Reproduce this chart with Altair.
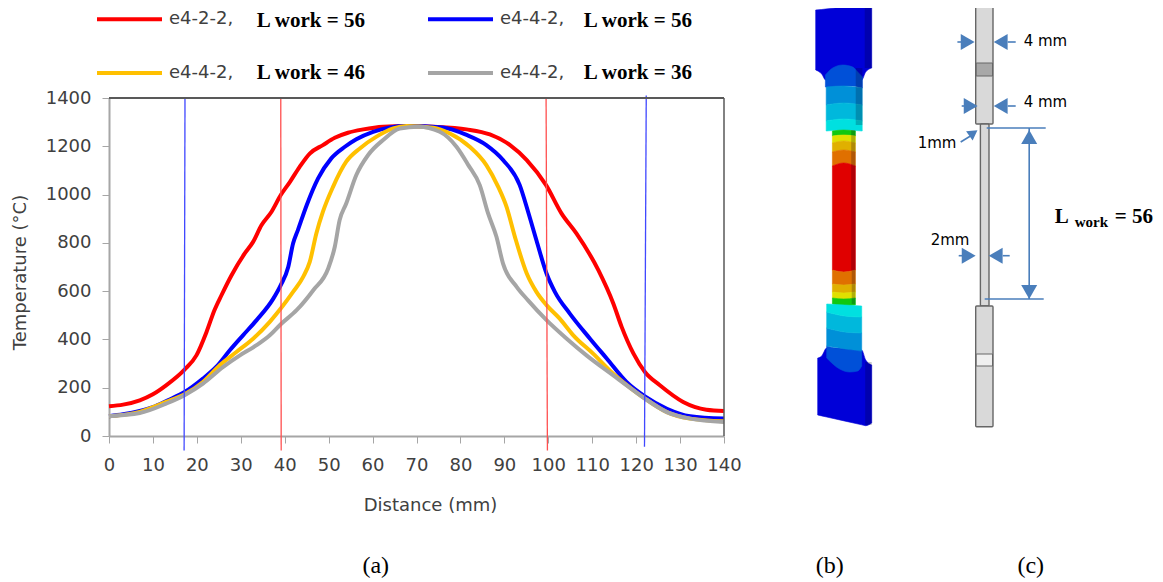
import altair as alt
import pandas as pd

# ---- panel (a): temperature profiles -------------------------------------
names = ["e4-2-2, L work = 56", "e4-4-2, L work = 56 ", "e4-4-2, L work = 46", "e4-4-2, L work = 36"]
colors = ["#ff0000", "#0000ff", "#ffc000", "#a5a5a5"]
red_x = [0,3.2,7,10,13,17.2,19.9,22.2,24,25.6,27.9,30.9,32.8,34.7,37,39.1,41.2,43.4,45.7,48.7,51.4,54.4,57.9,62.4,67.7,73.8,81.4,86.7,91.3,95.1,99.5,103,106.4,111.4,114.8,116.7,119.4,122,125.4,130.7,136,140]
red_y = [123,130,148,173,210,275,334,431,521,583,666,756,804,873,929,998,1053,1115,1170,1205,1235,1256,1270,1281,1284,1281,1270,1249,1205,1143,1039,922,839,687,549,452,341,265,210,141,109,104]
blue_x = [0,3.2,7,10,13.4,17.2,21.4,24.4,27.5,30.5,33.6,37.4,39.1,40.8,41.9,43,45,47.6,50.6,53.7,56.3,60.1,63.9,67.7,76,81.4,85.9,89.7,93.5,95.4,97.3,99.6,101.5,104.9,109.5,113.3,117.8,122,127,132.3,140]
blue_y = [82,90,104,120,148,182,238,286,355,417,480,569,625,700,797,853,956,1067,1150,1198,1229,1260,1278,1284,1278,1247,1205,1143,1039,929,811,673,597,507,403,321,224,164,113,82,72]
yellow_x = [0,7,13,17.2,21.4,25.2,29,32.8,36.6,39.1,41.9,44.2,45.7,47.2,48.7,51,54,57.1,60.9,64.7,67.7,73.8,77.6,82.1,85.9,88.6,90.5,92.4,95.1,97.3,99.6,102.6,105.7,110.2,114.8,119.4,122,127,132.3,140]
yellow_y = [82,100,141,173,224,293,348,403,473,528,597,659,721,839,929,1032,1136,1191,1240,1274,1284,1277,1253,1198,1122,1032,949,825,673,597,542,486,417,341,258,189,155,99,72,61]
gray_x = [0,7,13,17.2,21.4,26,29.8,33.6,36.6,39.1,42.7,46.5,49.9,51.4,52.5,54,56.3,59,62.4,66.2,70.4,75.3,79.1,81.8,84.4,86.3,88.2,89.7,92.8,95.4,99.6,104.2,108.7,114.8,119.4,122,127,132.3,140]
gray_y = [82,95,134,169,217,286,334,376,417,463,521,604,694,784,894,963,1081,1164,1226,1274,1281,1260,1198,1122,1039,922,825,714,618,562,480,403,334,251,189,155,99,72,58]
x_ticks = list(range(0, 141, 10))
y_ticks = list(range(0, 1401, 200))

# guide lines drawn over the profiles (slightly tilted, as in the picture)
guide_x1 = [17.3, 39.1, 99.5, 122.3]
guide_x2 = [17.1, 39.2, 99.8, 121.9]
guide_y1 = [1400, 1400, 1400, 1410]
guide_y2 = [-60, -60, -60, -45]
guide_col = ["#4048ff", "#ff5050", "#ff5050", "#4048ff"]

series = [(names[0], red_x, red_y), (names[1], blue_x, blue_y),
          (names[2], yellow_x, yellow_y), (names[3], gray_x, gray_y)]
curves = pd.DataFrame([
    {"series": n, "order": i, "x": a, "y": b}
    for i, (n, xs, ys) in enumerate(series) for a, b in zip(xs, ys)
])
guides = pd.DataFrame({"x": guide_x1, "x2": guide_x2, "y": guide_y1, "y2": guide_y2, "c": guide_col})

SANS = "DejaVu Sans"
SERIF = "Liberation Serif"
TXT = "#404040"
W, H = 615, 338

xs = alt.Scale(domain=[0, 140], nice=False, zero=False)
ys = alt.Scale(domain=[0, 1400], nice=False)
x_axis = alt.Axis(values=x_ticks, title="Distance (mm)", grid=False, domainColor="#a6a6a6", domainWidth=2,
                  tickColor="#a6a6a6", tickSize=7, tickWidth=1, labelFont=SANS, labelFontSize=18, labelColor=TXT,
                  labelPadding=13, titleFont=SANS, titleFontSize=18, titleColor=TXT, titleFontWeight="normal",
                  titlePadding=22, titleX=321, labelOverlap=False, labelFlush=False, format="d")
y_axis = alt.Axis(values=y_ticks, title="Temperature (°C)", grid=False, domainColor="#a6a6a6", domainWidth=2,
                  tickColor="#a6a6a6", tickSize=7, tickWidth=1, labelFont=SANS, labelFontSize=18, labelColor=TXT,
                  labelPadding=11, titleFont=SANS, titleFontSize=18, titleColor=TXT, titleFontWeight="normal",
                  titlePadding=16, titleY=174, labelOverlap=False, format="d")

legend = alt.Legend(title=None, orient="none", legendX=-14, legendY=-113.5, columns=2, direction="horizontal",
                    symbolType="stroke", symbolSize=4225, symbolStrokeWidth=4, rowPadding=10,
                    columnPadding=186, labelFont=SANS, labelFontSize=18, labelColor=TXT, labelOffset=5, padding=0,
                    labelLimit=140, labelExpr="split(datum.label, ' L')[0]", values=names)

lines = alt.Chart(curves).mark_line(strokeWidth=4, interpolate="monotone", clip=False).encode(
    x=alt.X("x:Q", scale=xs, axis=x_axis),
    y=alt.Y("y:Q", scale=ys, axis=y_axis),
    order="order:O",
    color=alt.Color("series:N", scale=alt.Scale(domain=names, range=colors), legend=legend, sort=names),
)
guide_rules = alt.Chart(guides).mark_rule(strokeWidth=1.3).encode(
    x=alt.X("x:Q", scale=xs), x2="x2:Q", y=alt.Y("y:Q", scale=ys), y2="y2:Q", color=alt.Color("c:N", scale=None),
)
top_line = alt.Chart(pd.DataFrame({"y": [1400]})).mark_rule(color="#595959", strokeWidth=2).encode(y=alt.Y("y:Q", scale=ys))
right_line = alt.Chart(pd.DataFrame({"x": [140]})).mark_rule(color="#595959", strokeWidth=1.5).encode(x=alt.X("x:Q", scale=xs))
panel_a = alt.layer(lines, guide_rules, top_line, right_line)

# ---- everything else is read in picture pixels through a pixel scale -----
OX, OY = 109.3, 98
px = alt.Scale(domain=[0, 1163], range=[-OX, 1163 - OX], nice=False, zero=False)
py = alt.Scale(domain=[0, 582], range=[-OY, 582 - OY], nice=False, zero=False)
PX = alt.X("x:Q", scale=px, axis=None)
PY = alt.Y("y:Q", scale=py, axis=None)

# panel (b): FE contour bands: (colour, xs, top edge, bottom edge)
neck_top = [825.7, 833, 843, 853, 858, 862.7]
wide = [826.5, 844, 862.5]
narrow = [832.7, 844, 855.7]
bands = [
    ("#0000d8", [816, 822, 826, 862, 866, 872], [10, 9.5, 9, 5.8, 5.4, 4.5], [70, 74, 80, 80, 72, 68]),
    ("#0050d8", neck_top, [75, 68, 65, 67, 72, 77], [87, 87, 86, 86, 87, 88]),
    ("#0090d8", wide, [87, 86, 88], [105, 103, 105]),
    ("#00b8dc", wide, [105, 103, 105], [121, 119, 121]),
    ("#00e0e0", wide, [121, 119, 121], [131, 130, 131]),
    ("#10c810", narrow, [131, 130, 131], [136, 135, 136]),
    ("#e0e000", narrow, [136, 135, 136], [143, 141, 143]),
    ("#e0b000", narrow, [143, 141, 143], [152, 150, 152]),
    ("#e07000", narrow, [152, 150, 152], [166, 163, 166]),
    ("#e00000", narrow, [166, 163, 166], [270, 272, 270]),
    ("#e07000", narrow, [270, 272, 270], [284, 285, 284]),
    ("#e0b000", narrow, [284, 285, 284], [292, 293, 292]),
    ("#e0e000", narrow, [292, 293, 292], [298, 299, 298]),
    ("#10c810", narrow, [298, 299, 298], [304, 306, 305]),
    ("#0000d8", [818, 822, 827, 862, 866, 872], [358, 356, 348, 350, 360, 365], [415, 415.9, 417, 424.8, 425.7, 423]),
    ("#0050d8", [827, 840, 850, 858, 862], [346, 349, 350, 351, 351], [358, 369, 372, 371, 366]),
    ("#0090d8", [827, 845, 862], [328, 332, 333], [346, 349, 351]),
    ("#00b8dc", [827, 845, 862], [312, 316, 317], [328, 332, 333]),
    ("#00e0e0", [827, 845, 862], [304, 305, 306], [312, 316, 317]),
]
band_rows = pd.DataFrame([
    {"band": f"{i:02d}", "c": c, "x": a, "y": t, "y2": b}
    for i, (c, xv, tv, bv) in enumerate(bands) for a, t, b in zip(xv, tv, bv)
])
band_marks = alt.Chart(band_rows).mark_area(interpolate="monotone", opacity=1, strokeWidth=0.6).encode(
    x=PX, y=PY, y2="y2:Q", detail="band:N", color=alt.Color("c:N", scale=None),
    stroke=alt.Stroke("c:N", scale=None), order="band:O",
)
shade_x = [865, 856, 851.5, 852, 865.5]
shade_x2 = [872, 862.7, 855.7, 855.7, 872]
shade_y = [5.5, 68, 130, 270, 362]
shade_y2 = [68, 125, 270, 304, 425]
shade_df = pd.DataFrame({"x": shade_x, "x2": shade_x2, "y": shade_y, "y2": shade_y2})
shade = alt.Chart(shade_df).mark_rect(color="#000020", opacity=0.22).encode(x=PX, x2="x2:Q", y=PY, y2="y2:Q")

# panel (c): specimen sketch
spec_x = [976, 980.7, 976]
spec_x2 = [993.3, 989.3, 993.3]
spec_y = [3.3, 124, 306]
spec_y2 = [124, 306, 426.7]
grip_x = [976.5, 976.5]
grip_x2 = [992.8, 992.8]
grip_y = [63, 354]
grip_y2 = [76, 366]
grip_c = ["#a8a8a8", "#efefef"]
spec = alt.Chart(pd.DataFrame({"x": spec_x, "x2": spec_x2, "y": spec_y, "y2": spec_y2})).mark_rect(
    fill="#d9d9d9", stroke="#666666", strokeWidth=1.4, cornerRadius=1).encode(x=PX, x2="x2:Q", y=PY, y2="y2:Q")
grip = alt.Chart(pd.DataFrame({"x": grip_x, "x2": grip_x2, "y": grip_y, "y2": grip_y2, "c": grip_c})).mark_rect(
    stroke="#666666", strokeWidth=1).encode(x=PX, x2="x2:Q", y=PY, y2="y2:Q", fill=alt.Fill("c:N", scale=None))

BLUE = "#4a7ebb"
dim_x = [987, 985, 1029.5, 957.7, 1008, 962, 1008, 959, 1003, 961]
dim_x2 = [1046, 1044, 1029.5, 962, 1016, 966, 1016, 964, 1010, 974]
dim_y = [128, 299, 128, 42, 42, 106, 106, 255.7, 255.7, 142]
dim_y2 = [128, 299, 299, 42, 42, 106, 106, 255.7, 255.7, 134]
dims = alt.Chart(pd.DataFrame({"x": dim_x, "x2": dim_x2, "y": dim_y, "y2": dim_y2})).mark_rule(
    color=BLUE, strokeWidth=1.6).encode(x=PX, x2="x2:Q", y=PY, y2="y2:Q")

head_r = pd.DataFrame({"x": [968, 971, 969], "y": [42, 106, 255.7]})
head_l = pd.DataFrame({"x": [1001, 1001, 996], "y": [42, 106, 255.7]})
head_u = pd.DataFrame({"x": [1029.5], "y": [137]})
head_d = pd.DataFrame({"x": [1029.5], "y": [292]})
head_s = pd.DataFrame({"x": [973.7], "y": [133]})
def heads(df, shape, size=256, angle=0):
    return alt.Chart(df).mark_point(shape=shape, filled=True, size=size, color=BLUE, opacity=1, angle=angle).encode(x=PX, y=PY)

# text
def texts(x, y, t, font, size, weight="normal", color="#000000", align="left"):
    df = pd.DataFrame({"x": x, "y": y, "t": t})
    return alt.Chart(df).mark_text(font=font, fontSize=size, fontWeight=weight, color=color, align=align,
                                   baseline="middle").encode(x=PX, y=PY, text="t:N")

lwork_x = [257, 584, 257, 584]
lwork_y = [21, 21, 73, 73]
lwork_t = ["L work = 56", "L work = 56", "L work = 46", "L work = 36"]
cap_x = [376, 830, 1031]
cap_y = [566, 566, 566]
cap_t = ["(a)", "(b)", "(c)"]
mm_x = [1024, 1024, 918, 931]
mm_y = [41, 102, 143, 240]
mm_t = ["4 mm", "4 mm", "1mm", "2mm"]

panels = alt.layer(
    band_marks, shade, spec, grip, dims,
    heads(head_r, "triangle-right"), heads(head_l, "triangle-left"),
    heads(head_u, "triangle-up"), heads(head_d, "triangle-down"), heads(head_s, "triangle-up", 130, 55),
    texts(lwork_x, lwork_y, lwork_t, SERIF, 21, "bold"),
    texts(cap_x, cap_y, cap_t, SERIF, 24, align="center"),
    texts(mm_x, mm_y, mm_t, SANS, 15),
    texts([1055], [217], ["L"], SERIF, 21, "bold"),
    texts([1075], [222], ["work"], SERIF, 15, "bold"),
    texts([1115], [217], ["= 56"], SERIF, 21, "bold"),
)

chart = alt.layer(panel_a, panels).resolve_scale(x="independent", y="independent", color="independent", fill="independent", stroke="independent").properties(
    width=W, height=H,
    autosize=alt.AutoSizeParams(type="none", contains="content"),
    padding={"left": 101, "top": 90, "right": 431, "bottom": 146},
    background="white",
).configure_view(stroke=None)

chart.save("out.html", embed_options={"renderer": "svg", "actions": False})
